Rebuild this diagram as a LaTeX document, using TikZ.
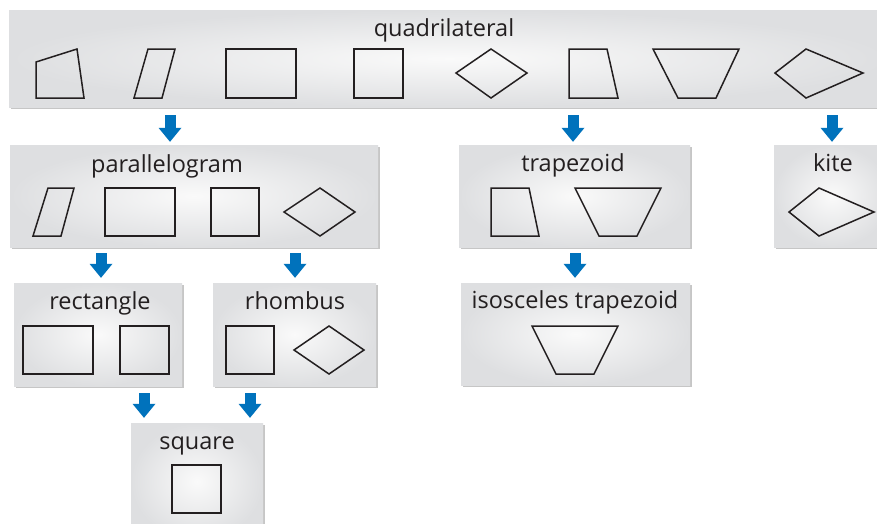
\documentclass[tikz,border=0pt]{standalone}
\usepackage{fontspec}
\setmainfont{Open Sans}
\usetikzlibrary{arrows.meta,shadows,fit}
\definecolor{arrowblue}{RGB}{0,114,188}
\definecolor{boxedge}{RGB}{222,223,225}
\definecolor{ink}{RGB}{35,31,32}
\tikzset{
  box/.style={inner sep=0pt, draw=none, inner color=white!96!gray, outer color=boxedge,
    general shadow={fill=gray!45, shadow xshift=2pt, shadow yshift=-2pt}},
  title/.style={text=ink, font=\fontsize{23.5}{28}\selectfont, inner sep=0pt, anchor=base},
  fig/.style={draw=ink, line width=1.5pt, line join=miter},
  barrow/.style={draw=arrowblue, line width=11pt,
    -{Triangle[width=23pt,length=14pt,line width=0pt,fill=arrowblue]}}
}
\begin{document}
\begin{tikzpicture}[x=1pt,y=-1pt]
\clip (0,0) rectangle (877,523);
\fill[white] (0,0) rectangle (877,523);
% boxes
\node[box, fit={(9,10) (890,107)}] (quad) {};
\node[box, fit={(10,145) (378,247)}] (para) {};
\node[box, fit={(459,145) (690,247)}] (trap) {};
\node[box, fit={(774,145) (890,247)}] (kite) {};
\node[box, fit={(14,283) (182,386)}] (rect) {};
\node[box, fit={(213,283) (376,386)}] (rhom) {};
\node[box, fit={(461,283) (690,385)}] (isos) {};
\node[box, fit={(131,423) (263,540)}] (squa) {};
% titles
\node[title] (tquad) at (444,36) {quadrilateral};
\node[title] (tpara) at (167,172) {parallelogram};
\node[title] (ttrap) at (573,171) {trapezoid};
\node[title] (tkite) at (833,171) {kite};
\node[title] (trect) at (100,309) {rectangle};
\node[title] (trhom) at (295,309) {rhombus};
\node[title] (tisos) at (575,308) {isosceles trapezoid};
\node[title] (tsqua) at (197,449) {square};
% arrows
\draw[barrow, shorten <=8pt, shorten >=3pt] (170,0 |- quad.south) -- (170,0 |- para.north);
\draw[barrow, shorten <=8pt, shorten >=3pt] (573,0 |- quad.south) -- (573,0 |- trap.north);
\draw[barrow, shorten <=8pt, shorten >=3pt] (832,0 |- quad.south) -- (832,0 |- kite.north);
\draw[barrow, shorten <=6pt, shorten >=5pt] (101,0 |- para.south) -- (101,0 |- rect.north);
\draw[barrow, shorten <=6pt, shorten >=5pt] (295,0 |- para.south) -- (295,0 |- rhom.north);
\draw[barrow, shorten <=6pt, shorten >=5pt] (575,0 |- trap.south) -- (575,0 |- isos.north);
\draw[barrow, shorten <=7pt, shorten >=5pt] (144,0 |- rect.south) -- (144,0 |- squa.north);
\draw[barrow, shorten <=7pt, shorten >=5pt] (250,0 |- rhom.south) -- (250,0 |- squa.north);
% top row shapes
\draw[fig] (36,62) -- (77,49) -- (84,98) -- (36,98) -- cycle;
\draw[fig] (148,49) -- (175,49) -- (162,98) -- (134,98) -- cycle;
\draw[fig] (226,49) rectangle (296,98);
\draw[fig] (354,49) rectangle (403,98);
\draw[fig] (456,73) -- (491,49) -- (527,73) -- (491,98) -- cycle;
\draw[fig] (569,49) -- (607,49) -- (618,98) -- (569,98) -- cycle;
\draw[fig] (653,49) -- (739,49) -- (716,98) -- (678,98) -- cycle;
\draw[fig] (775,73) -- (806,49) -- (863,73) -- (806,98) -- cycle;
% parallelogram row
\draw[fig] (48,188) -- (74,188) -- (61,236) -- (33,236) -- cycle;
\draw[fig] (105,188) rectangle (175,236);
\draw[fig] (211,188) rectangle (259,236);
\draw[fig] (284,212) -- (320,188) -- (355,212) -- (320,236) -- cycle;
% trapezoid row
\draw[fig] (491,188) -- (529,188) -- (539,236) -- (491,236) -- cycle;
\draw[fig] (575,188) -- (661,188) -- (637,236) -- (599,236) -- cycle;
% kite
\draw[fig] (789,212) -- (819,188) -- (874,212) -- (819,236) -- cycle;
% rectangle box
\draw[fig] (23,326) rectangle (93,374);
\draw[fig] (120,326) rectangle (169,374);
% rhombus box
\draw[fig] (226,326) rectangle (274,374);
\draw[fig] (294,350) -- (329,326) -- (364,350) -- (329,374) -- cycle;
% isosceles box
\draw[fig] (532,326) -- (618,326) -- (594,374) -- (556,374) -- cycle;
% square box
\draw[fig] (172,465) rectangle (221,513);
\end{tikzpicture}
\end{document}
